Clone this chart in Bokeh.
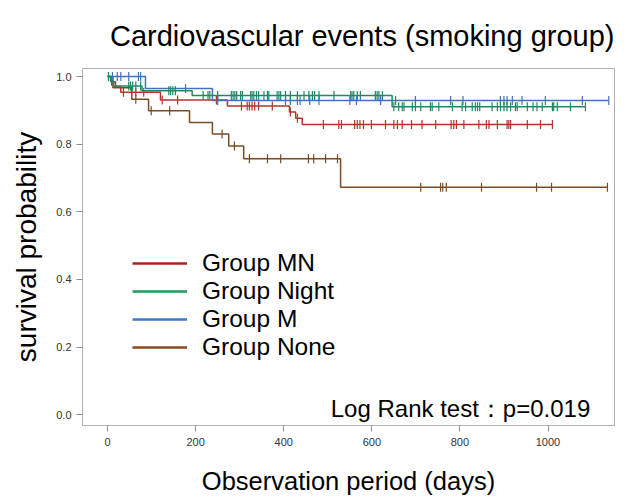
import numpy as np
from bokeh.plotting import figure
from bokeh.models import Range1d, Legend, LegendItem, Label, FixedTicker, PrintfTickFormatter
from bokeh.embed import file_html
from bokeh.resources import INLINE

# ---- data ----
groups = ["Group MN", "Group Night", "Group M", "Group None"]

mn_times = [0, 7, 18, 30, 120, 272, 413, 427, 442, 1010]
mn_surv = [1.0, 0.985, 0.970, 0.954, 0.931, 0.913, 0.895, 0.877, 0.858, 0.858]
mn_censor = [36, 64, 82, 124, 159, 247, 304, 317, 322, 328, 334, 343, 374, 415, 431,
             490, 525, 531, 561, 567, 573, 581, 599, 631, 650, 658, 669, 690, 714, 745,
             780, 786, 792, 809, 843, 860, 866, 885, 907, 911, 915, 953, 983, 1010]

night_times = [0, 7, 14, 78, 192, 646, 1085]
night_surv = [1.0, 0.986, 0.972, 0.958, 0.944, 0.911, 0.911]
night_censor = [2, 9, 48, 52, 57, 64, 75, 139, 143, 148, 154, 217, 228, 232, 250, 281, 285,
                289, 293, 302, 306, 325, 328, 332, 338, 343, 355, 363, 366, 385, 389, 393,
                404, 415, 431, 446, 457, 465, 470, 480, 514, 552, 555, 559, 567, 574, 608,
                612, 616, 624, 650, 661, 669, 673, 692, 699, 711, 733, 737, 752, 783, 805,
                813, 828, 835, 840, 845, 873, 885, 892, 900, 907, 915, 926, 930, 953, 966,
                975, 987, 1010, 1013, 1021, 1051, 1085]

m_times = [0, 86, 238, 1138]
m_surv = [1.0, 0.965, 0.929, 0.929]
m_censor = [11, 22, 30, 48, 70, 75, 177, 250, 404, 415, 431, 437, 459, 480, 550, 565, 620,
            654, 699, 779, 807, 892, 900, 907, 919, 941, 994, 1078, 1138]

none_times = [0, 12, 55, 93, 186, 238, 275, 309, 529, 1135]
none_surv = [1.0, 0.967, 0.933, 0.899, 0.864, 0.830, 0.795, 0.757, 0.673, 0.673]
none_censor = [64, 99, 141, 260, 288, 322, 363, 393, 456, 468, 495, 522, 711, 756, 761,
               769, 849, 974, 1008, 1135]

x_ticks = [0, 200, 400, 600, 800, 1000]
y_ticks = [0.0, 0.2, 0.4, 0.6, 0.8, 1.0]

colors = {"Group MN": "#B3342C", "Group Night": "#1E8A63", "Group M": "#4471B8", "Group None": "#7A4C24"}
legend_colors = {"Group MN": "#B01E23", "Group Night": "#1E9B5C", "Group M": "#3F7DC4", "Group None": "#8A4A1E"}

series = {
    "Group MN": (mn_times, mn_surv, mn_censor),
    "Group Night": (night_times, night_surv, night_censor),
    "Group M": (m_times, m_surv, m_censor),
    "Group None": (none_times, none_surv, none_censor),
}

FONT = "Liberation Sans"

p = figure(width=639, height=499,
           x_range=Range1d(-57, 1151), y_range=Range1d(-0.032, 1.024),
           output_backend="svg", toolbar_location=None,
           min_border_left=82, min_border_right=25, min_border_top=67, min_border_bottom=74)

p.title.text = "Cardiovascular events (smoking group)"
p.title.text_font = FONT
p.title.text_font_size = "29px"
p.title.text_font_style = "normal"
p.title.align = "right"
p.title.standoff = 34
p.title.text_color = "black"

p.xgrid.visible = False
p.ygrid.visible = False
p.outline_line_color = "#AFAFAF"
p.outline_line_width = 1
p.background_fill_color = "white"
p.border_fill_color = "white"

for ax in (p.xaxis, p.yaxis):
    ax.axis_line_color = "#AFAFAF"
    ax.major_tick_line_color = "#8F8F8F"
    ax.major_tick_out = 6
    ax.major_tick_in = 0
    ax.minor_tick_line_color = None
    ax.major_label_text_font = FONT
    ax.major_label_text_font_size = "11px"
    ax.major_label_text_color = "#333333"
    ax.axis_label_text_font = FONT
    ax.axis_label_text_font_style = "normal"
    ax.axis_label_text_color = "black"

p.xaxis.ticker = FixedTicker(ticks=x_ticks)
p.yaxis.ticker = FixedTicker(ticks=y_ticks)
p.yaxis.formatter = PrintfTickFormatter(format="%.1f")
p.xaxis.axis_label = "Observation period (days)"
p.yaxis.axis_label = "survival probability"
p.xaxis.axis_label_text_font_size = "25.5px"
p.yaxis.axis_label_text_font_size = "28px"
p.xaxis.major_label_standoff = 6
p.yaxis.major_label_standoff = 5
p.xaxis.axis_label_standoff = 18
p.yaxis.axis_label_standoff = 11


def surv_at(times, surv, t):
    idx = np.searchsorted(np.asarray(times), np.asarray(t), side="right") - 1
    return np.asarray(surv)[idx]


draw_order = ["Group None", "Group MN", "Group M", "Group Night"]
for g in draw_order:
    t, s, c = series[g]
    col = colors[g]
    p.step(x=t, y=s, mode="after", line_color=col, line_width=1.5)
    p.scatter(x=c, y=surv_at(t, s, c), marker="dash", angle=np.pi / 2, size=9,
              line_color=col, line_width=1.2)

items = []
for g in groups:
    r = p.line(x=[np.nan, np.nan], y=[np.nan, np.nan], line_color=legend_colors[g], line_width=2.6)
    items.append(LegendItem(label=g, renderers=[r]))

legend = Legend(items=items, location=(50, 64), padding=0, margin=0,
                border_line_color=None, background_fill_alpha=0,
                glyph_width=55, glyph_height=20, label_height=25, spacing=0,
                label_standoff=15, label_text_font=FONT, label_text_font_size="24.5px",
                label_text_color="black")
p.add_layout(legend, "center")

p.add_layout(Label(x=1096, y=0.018, text="Log Rank test\uff1ap=0.019", text_align="right",
                   text_baseline="alphabetic", text_font=FONT, text_font_size="24px",
                   text_color="black"))

open("out.html", "w").write(file_html(p, INLINE))
